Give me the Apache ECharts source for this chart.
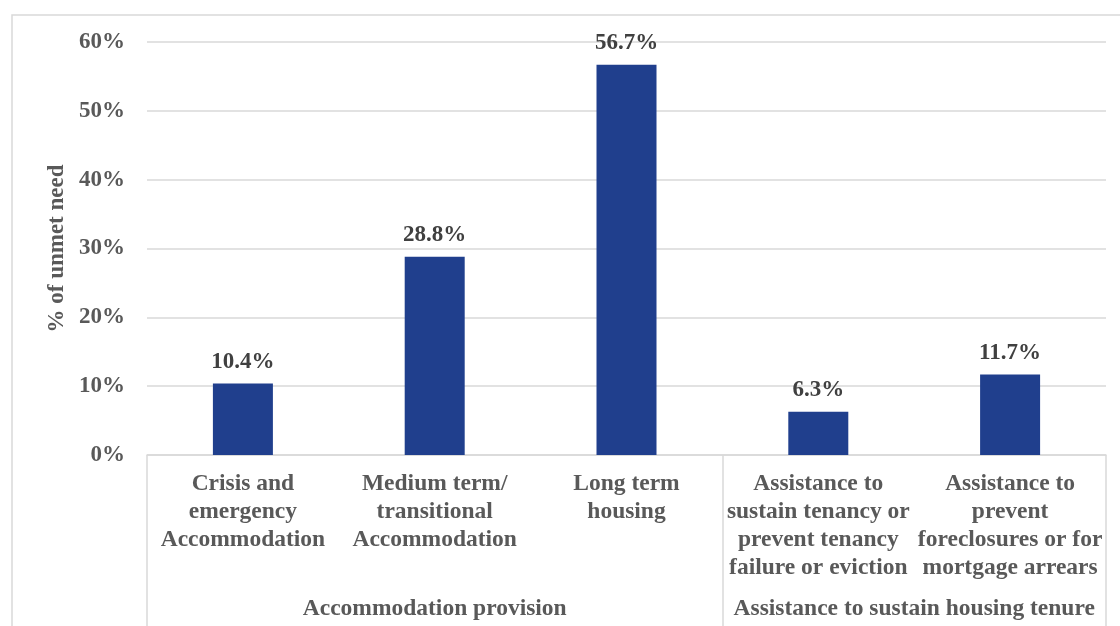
<!DOCTYPE html>
<html>
<head>
<meta charset="utf-8">
<script src="https://cdn.jsdelivr.net/npm/echarts@6/dist/echarts.min.js"></script>
<style>
  html, body { margin: 0; padding: 0; background: #ffffff; }
  #chart { width: 1120px; height: 626px; }
</style>
</head>
<body>
<div id="chart"></div>
<script>
// Service categories (line breaks follow the printed wrapping)
const categories = [
  'Crisis and\nemergency\nAccommodation',
  'Medium term/\ntransitional\nAccommodation',
  'Long term\nhousing',
  'Assistance to\nsustain tenancy or\nprevent tenancy\nfailure or eviction',
  'Assistance to\nprevent\nforeclosures or for\nmortgage arrears'
];
// Share of unmet need, in percent
const unmetNeed = [10.4, 28.8, 56.7, 6.3, 11.7];
// Outer grouping: names and how many categories each spans
const groupNames = ['Accommodation provision', 'Assistance to sustain housing tenure'];
const groupSizes = [3, 2];
// Value-axis tick labels
const yTicks = [0, 10, 20, 30, 40, 50, 60];

const FONT = "'Liberation Serif', 'Times New Roman', serif";
const LABEL_GREY = '#595959';
const LINE_GREY = '#d9d9d9';

// Group centres on a 0..N scale, used by the outer label axis
const groupCentres = [];
let start = 0;
groupSizes.forEach(function (n, i) {
  groupCentres.push({ pos: start + n / 2, name: groupNames[i] });
  start += n;
});
// Category indices where a group begins
const groupStarts = [0];
groupSizes.slice(0, -1).reduce(function (acc, n) { groupStarts.push(acc + n); return acc + n; }, 0);

const chart = echarts.init(document.getElementById('chart'));
chart.setOption({
  animation: false,
  backgroundColor: '#ffffff',
  textStyle: { fontFamily: FONT },
  graphic: [{
    type: 'rect',
    left: 9.5, top: 12.5,
    shape: { width: 1300, height: 800 },
    style: { fill: 'none', stroke: LINE_GREY, lineWidth: 1.5 },
    silent: true
  }],
  grid: { left: 147, right: 14, top: 42, bottom: 171, containLabel: false },
  xAxis: [{
    type: 'category',
    data: categories,
    position: 'bottom',
    axisLine: { show: true, lineStyle: { color: LINE_GREY, width: 1.5 } },
    axisTick: {
      show: true,
      length: 172,
      interval: function (index) { return groupStarts.indexOf(index) !== -1; },
      lineStyle: { color: LINE_GREY, width: 1.5 }
    },
    axisLabel: {
      interval: 0,
      margin: 15,
      color: LABEL_GREY,
      fontFamily: FONT,
      fontWeight: 'bold',
      fontSize: 23.5,
      lineHeight: 28,
      align: 'center'
    }
  }, {
    type: 'value',
    position: 'bottom',
    min: 0,
    max: categories.length,
    interval: 0.5,
    axisLine: { show: false },
    axisTick: { show: false },
    splitLine: { show: false },
    axisLabel: {
      margin: 142,
      color: LABEL_GREY,
      fontFamily: FONT,
      fontWeight: 'bold',
      fontSize: 23.5,
      showMinLabel: true,
      showMaxLabel: true,
      formatter: function (v) {
        const g = groupCentres.find(function (c) { return Math.abs(c.pos - v) < 1e-6; });
        return g ? g.name : '';
      }
    }
  }],
  yAxis: {
    type: 'value',
    min: yTicks[0],
    max: yTicks[yTicks.length - 1],
    interval: yTicks[1] - yTicks[0],
    name: '% of unmet need',
    nameLocation: 'middle',
    nameRotate: 90,
    nameGap: 78,
    nameTextStyle: { color: LABEL_GREY, fontFamily: FONT, fontWeight: 'bold', fontSize: 23 },
    axisLine: { show: false },
    axisTick: { show: false },
    axisLabel: {
      margin: 22,
      color: LABEL_GREY,
      fontFamily: FONT,
      fontWeight: 'bold',
      fontSize: 23,
      formatter: '{value}%'
    },
    splitLine: { show: true, lineStyle: { color: LINE_GREY, width: 1.5 } }
  },
  series: [{
    type: 'bar',
    xAxisIndex: 0,
    data: unmetNeed,
    barWidth: 60,
    itemStyle: { color: '#203f8d' },
    label: {
      show: true,
      position: 'top',
      distance: 10,
      color: '#404040',
      fontFamily: FONT,
      fontWeight: 'bold',
      fontSize: 23,
      formatter: function (p) { return p.value.toFixed(1) + '%'; }
    }
  }]
});
</script>
</body>
</html>
